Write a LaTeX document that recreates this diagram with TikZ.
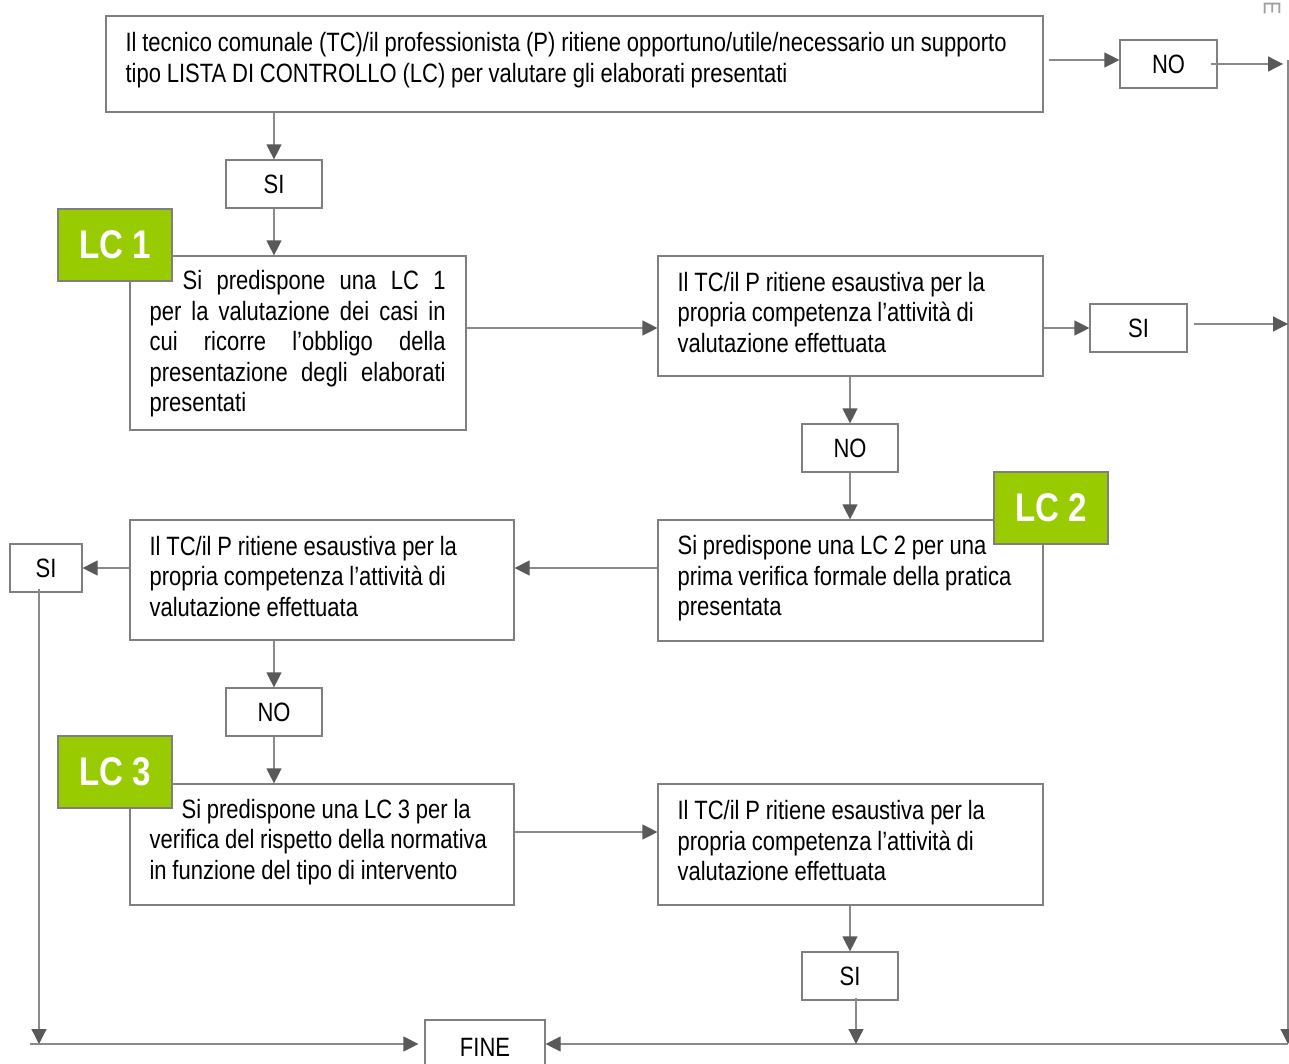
\documentclass[tikz,border=0pt]{standalone}
\usepackage{fontspec}
\setmainfont[FakeStretch=0.83]{Liberation Sans}
\usetikzlibrary{arrows.meta,calc}
\definecolor{boxgray}{HTML}{7F7F7F}
\definecolor{linegray}{HTML}{8A8A8A}
\definecolor{headgray}{HTML}{595959}
\definecolor{lcgreen}{HTML}{99CC00}
\newcommand{\jline}[2]{\leavevmode\hbox to #1{\spaceskip=2pt plus 1fil\relax #2}}
\newcommand{\bodyfont}{\fontsize{26.5}{30.5}\selectfont\spaceskip=5.8pt plus 2pt minus 1pt\relax}
\begin{document}
\begin{tikzpicture}[x=1pt,y=-1pt,
  frame/.style={draw=boxgray,line width=1.2pt,inner sep=0pt},
  txt/.style={font=\bodyfont,align=left,inner sep=0pt,anchor=west},
  lbl/.style={frame,font=\bodyfont,minimum height=48pt},
  lctag/.style={draw=boxgray,line width=1.2pt,fill=lcgreen,text=white,
    minimum width=114pt,minimum height=72pt,inner sep=0pt,
    font=\fontsize{40}{40}\selectfont\bfseries},
  arr/.style={draw=linegray,line width=1.2pt,
    -{Triangle[length=15pt,width=15pt,color=headgray]}}
]
\clip (0,0) rectangle (1289,1063);
\useasboundingbox (0,0) rectangle (1289,1063);
\fill[white] (0,0) rectangle (1289,1063);

% named coordinates
\coordinate (rtop) at (1288,60);
\coordinate (rbot) at (1288,1044);
\coordinate (lbot) at (30,1044);

% main boxes
\node[frame,minimum width=937pt,minimum height=96pt] (top) at (574.5,64) {};
\node[txt] (toptext) at ($(top.west)+(20,-4)$)
 {Il tecnico comunale (TC)/il professionista (P) ritiene opportuno/utile/necessario un supporto\\
  tipo LISTA DI CONTROLLO (LC) per valutare gli elaborati presentati};
\node[lbl,minimum width=97pt] (no1) at (1168.5,64) {NO};
\node[lbl,minimum width=96pt] (si1) at (274,184) {SI};

\node[frame,minimum width=336pt,minimum height=174pt] (lc1box) at (298,343) {};
\node[txt] (lc1text) at ($(lc1box.west)+(20,1)$)
 {\hspace*{33pt}\jline{263pt}{Si predispone una LC 1}\\
  \jline{296pt}{per la valutazione dei casi in}\\
  \jline{296pt}{cui ricorre l’obbligo della}\\
  \jline{296pt}{presentazione degli elaborati}\\
  presentati};

\node[frame,minimum width=385pt,minimum height=120pt] (r1) at (850.5,316) {};
\node[txt] (r1text) at ($(r1.west)+(20,-3.5)$)
 {Il TC/il P ritiene esaustiva per la\\
  propria competenza l’attività di\\
  valutazione effettuata};
\node[lbl,minimum width=97pt] (si2) at (1138.5,328) {SI};
\node[lbl,minimum width=96pt] (no2) at (850,448) {NO};

\node[frame,minimum width=385pt,minimum height=121pt] (lc2box) at (850.5,580.5) {};
\node[txt] (lc2text) at ($(lc2box.west)+(20,-2)$)
 {Si predispone una LC 2 per una\\
  prima verifica formale della pratica\\
  presentata};

\node[frame,minimum width=384pt,minimum height=120pt] (l2) at (322,580) {};
\node[txt] (l2text) at ($(l2.west)+(20,-3.5)$)
 {Il TC/il P ritiene esaustiva per la\\
  propria competenza l’attività di\\
  valutazione effettuata};
\node[lbl,minimum width=72pt] (si3) at (46,568) {SI};
\node[lbl,minimum width=96pt] (no3) at (274,712) {NO};

\node[frame,minimum width=384pt,minimum height=121pt] (lc3box) at (322,844.5) {};
\node[txt] (lc3text) at ($(lc3box.west)+(20,-2.5)$)
 {\hspace*{32pt}Si predispone una LC 3 per la\\
  verifica del rispetto della normativa\\
  in funzione del tipo di intervento};

\node[frame,minimum width=385pt,minimum height=121pt] (r3) at (850.5,844.5) {};
\node[txt] (r3text) at ($(r3.west)+(20,-3.5)$)
 {Il TC/il P ritiene esaustiva per la\\
  propria competenza l’attività di\\
  valutazione effettuata};
\node[lbl,minimum width=96pt] (si4) at (850,976) {SI};
\node[lbl,minimum width=120pt,minimum height=54pt] (fine) at (485,1047) {FINE};

% LC tags
\node[lctag] (lc1) at (115,245) {LC 1};
\node[lctag] (lc2) at (1051,508) {LC 2};
\node[lctag] (lc3) at (115,772) {LC 3};

% page mark
\node[text=gray!75,rotate=-90,inner sep=0pt,font=\fontsize{24}{24}\selectfont] (emark) at (1272,8) {E};

% connectors
\draw[arr] ($(top.east|-0,60)+(5,0)$) -- (no1.west|-0,60);
\draw[arr] ($(no1.east|-0,64)+(-7,0)$) -- ($(rtop|-0,64)+(-5,0)$);
\draw[arr] (rtop) -- (rbot);
\draw[arr] (rbot) -- (fine.east|-rbot);
\draw[arr] (top.south-|si1.north) -- (si1.north);
\draw[arr] (si1.south) -- (si1.south|-lc1box.north);
\draw[arr] (lc1box.east|-0,328) -- (r1.west|-0,328);
\draw[arr] (r1.east|-0,328) -- (si2.west|-0,328);
\draw[arr] ($(si2.east|-0,324)+(6,0)$) -- (rtop|-0,324);
\draw[arr] (r1.south-|no2.north) -- (no2.north);
\draw[arr] (no2.south) -- (lc2box.north-|no2.south);
\draw[arr] (lc2box.west|-0,568) -- (l2.east|-0,568);
\draw[arr] (l2.west|-0,568) -- (si3.east|-0,568);
\draw[arr] (l2.south-|no3.north) -- (no3.north);
\draw[arr] (no3.south) -- (lc3box.north-|no3.south);
\draw[arr] (lc3box.east|-0,832) -- (r3.west|-0,832);
\draw[arr] (r3.south-|si4.north) -- (si4.north);
\draw[arr] ($(si4.south)+(6,-3)$) -- ($(si4.south|-rbot)+(6,0)$);
\draw[arr] ($(si3.south)+(-7,-4)$) -- ($(si3.south|-lbot)+(-7,0)$);
\draw[arr] (lbot) -- ($(fine.west|-lbot)+(-6,0)$);
\end{tikzpicture}
\end{document}
